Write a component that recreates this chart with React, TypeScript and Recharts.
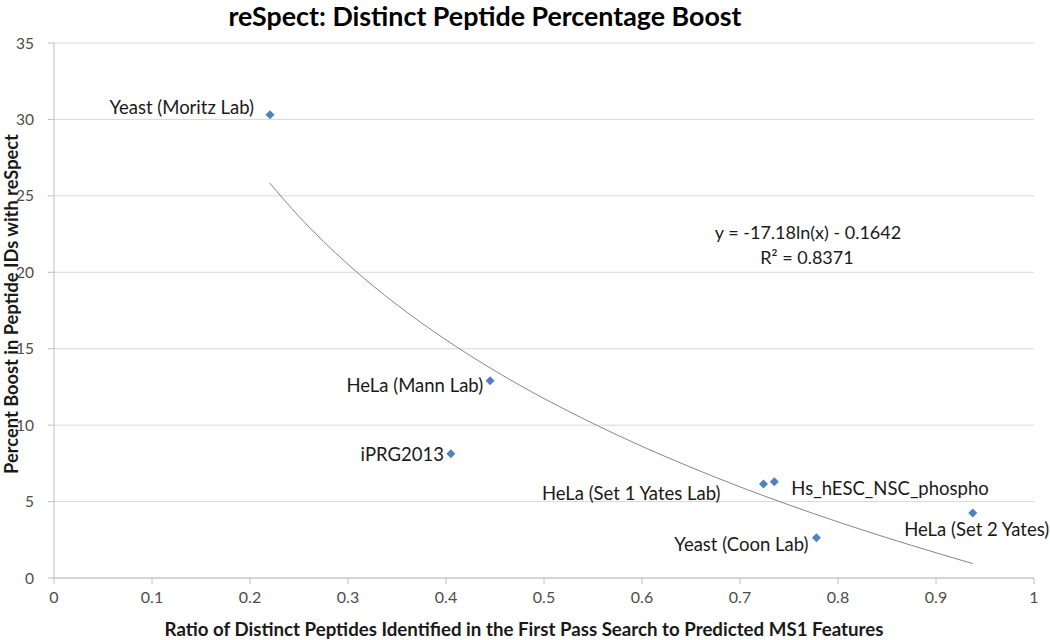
import React from 'react';
import {
  ComposedChart, Scatter, Line, XAxis, YAxis, CartesianGrid, LabelList,
} from 'recharts';

// sample names
const names = [
  'Yeast (Moritz Lab)',
  'HeLa (Mann Lab)',
  'iPRG2013',
  'HeLa (Set 1 Yates Lab)',
  'Hs_hESC_NSC_phospho',
  'Yeast (Coon Lab)',
  'HeLa (Set 2 Yates)',
];
const ratio = [0.2204, 0.445, 0.405, 0.724, 0.735, 0.778, 0.9375];
const boost = [30.3, 12.9, 8.13, 6.15, 6.3, 2.64, 4.25];

// points read along the fitted log trendline
const trendX = [0.22, 0.25, 0.3, 0.35, 0.4, 0.45, 0.5, 0.55, 0.6, 0.65, 0.7, 0.75, 0.8, 0.85, 0.9, 0.9375];
const trendY = [25.85, 23.65, 20.52, 17.87, 15.58, 13.55, 11.74, 10.11, 8.61, 7.24, 5.96, 4.78, 3.67, 2.63, 1.65, 0.94];

const xTicks = [0, 0.1, 0.2, 0.3, 0.4, 0.5, 0.6, 0.7, 0.8, 0.9, 1];
const yTicks = [0, 5, 10, 15, 20, 25, 30, 35];

const points = names.map((name, i) => ({ name, x: ratio[i], y: boost[i] }));
const trend = trendX.map((x, i) => ({ x, t: trendY[i] }));

// label placement per point: [dx, dy, anchor]
const labelPos: Record<string, [number, number, string]> = {
  'Yeast (Moritz Lab)': [-16, -8, 'end'],
  'HeLa (Mann Lab)': [-7, 4, 'end'],
  'iPRG2013': [-7, 0, 'end'],
  'HeLa (Set 1 Yates Lab)': [-43, 9, 'end'],
  'Hs_hESC_NSC_phospho': [17, 6, 'start'],
  'Yeast (Coon Lab)': [-8, 6, 'end'],
  'HeLa (Set 2 Yates)': [4, 16, 'middle'],
};

const FONT = 'Lato, "Open Sans", sans-serif';

const Diamond = (props: any) => {
  const { cx, cy } = props;
  const r = 4.5;
  return (
    <polygon
      points={`${cx},${cy - r} ${cx + r},${cy} ${cx},${cy + r} ${cx - r},${cy}`}
      fill="#4f81bd"
    />
  );
};

const PointLabel = (props: any) => {
  const { x, y, width, height, value } = props;
  const cx = x + (width || 0) / 2;
  const cy = y + (height || 0) / 2;
  const [dx, dy, anchor] = labelPos[value] || [0, 0, 'middle'];
  return (
    <text
      x={cx + dx}
      y={cy + dy}
      textAnchor={anchor as any}
      dominantBaseline="central"
      fontFamily={FONT}
      fontSize={18.5}
      fill="#1a1a1a"
    >
      {value}
    </text>
  );
};

export default function App() {
  return (
    <div style={{ position: 'absolute', left: 0, top: 0, width: 1050, height: 640, background: '#fff', fontFamily: FONT }}>
      <ComposedChart
        width={1050}
        height={640}
        margin={{ top: 43, right: 16, bottom: 0, left: 0 }}
      >
        <CartesianGrid horizontal vertical={false} stroke="#d9d9d9" />
        <XAxis
          type="number"
          dataKey="x"
          domain={[0, 1]}
          ticks={xTicks}
          interval={0}
          height={62}
          stroke="#bfbfbf"
          tickSize={6}
          tickMargin={8}
          tick={{ fontSize: 16, fill: '#4d4d4d', fontFamily: FONT }}
          allowDataOverflow
        />
        <YAxis
          type="number"
          domain={[0, 35]}
          ticks={yTicks}
          interval={0}
          width={54}
          stroke="#bfbfbf"
          tickSize={6}
          tickMargin={14}
          tick={{ fontSize: 15.5, fill: '#4d4d4d', fontFamily: FONT }}
        />
        <Line
          data={trend}
          dataKey="t"
          type="monotone"
          stroke="#868686"
          strokeWidth={1}
          dot={false}
          activeDot={false}
          isAnimationActive={false}
        />
        <Scatter data={points} dataKey="y" shape={<Diamond />} isAnimationActive={false}>
          <LabelList dataKey="name" content={<PointLabel />} />
        </Scatter>
        <text x={485} y={16} textAnchor="middle" dominantBaseline="central" fontFamily={FONT} fontSize={26.8} fontWeight={700} fill="#000">
          reSpect: Distinct Peptide Percentage Boost
        </text>
        <text x={808} y={232} textAnchor="middle" dominantBaseline="central" fontFamily={FONT} fontSize={18} fill="#1a1a1a">
          y = -17.18ln(x) - 0.1642
        </text>
        <text x={807} y={257} textAnchor="middle" dominantBaseline="central" fontFamily={FONT} fontSize={18} fill="#1a1a1a">
          R² = 0.8371
        </text>
        <text x={524} y={629} textAnchor="middle" dominantBaseline="central" fontFamily={FONT} fontSize={18.7} fontWeight={700} fill="#1a1a1a">
          Ratio of Distinct Peptides Identified in the First Pass Search to Predicted MS1 Features
        </text>
        <text
          x={11}
          y={304}
          textAnchor="middle"
          dominantBaseline="central"
          fontFamily={FONT}
          fontSize={18.3}
          fontWeight={700}
          fill="#1a1a1a"
          transform="rotate(-90 11 304)"
        >
          Percent Boost in Peptide IDs with reSpect
        </text>
      </ComposedChart>
    </div>
  );
}
